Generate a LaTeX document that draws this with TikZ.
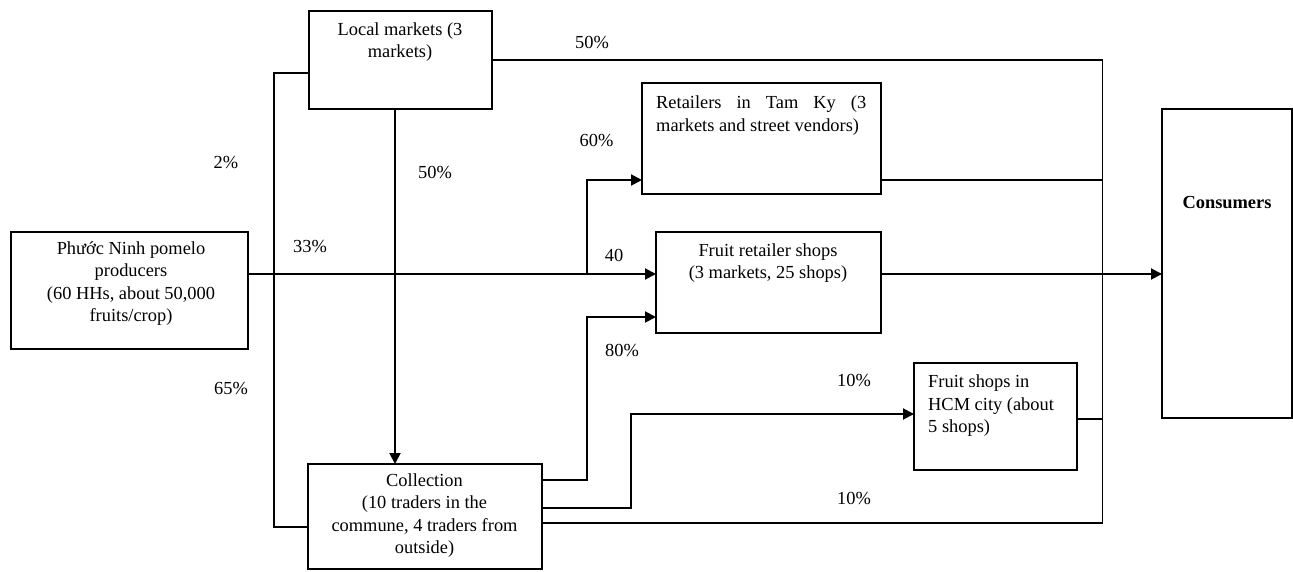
\documentclass[tikz,border=0pt]{standalone}
\usepackage{fontspec}
\setmainfont{Liberation Serif}
\usetikzlibrary{arrows.meta}
\begin{document}
\begin{tikzpicture}[x=1pt,y=-1pt,
  box/.style={draw, line width=1.1pt, inner sep=0pt, outer sep=0pt, anchor=north west},
  txt/.style={inner sep=0pt, font=\fontsize{18.4}{22.5}\selectfont},
  lbl/.style={inner sep=0pt, font=\fontsize{18.4}{22.5}\selectfont},
  plain/.style={line width=1.1pt},
  arr/.style={line width=1.9pt, -{Triangle[length=11pt,width=11pt]}}]
\useasboundingbox (0,0) rectangle (1293,572);
% boxes
\node[box, minimum width=183pt, minimum height=98pt] (lm) at (309,11) {};
\node[box, minimum width=239pt, minimum height=111pt] (tk) at (642,83) {};
\node[box, minimum width=225pt, minimum height=101pt] (fr) at (656,232) {};
\node[box, minimum width=130pt, minimum height=309pt] (cons) at (1162,109) {};
\node[box, minimum width=237pt, minimum height=117pt] (prod) at (11,232) {};
\node[box, minimum width=234pt, minimum height=105pt] (col) at (308,464) {};
\node[box, minimum width=163pt, minimum height=107pt] (hcm) at (914,363) {};
% texts
\node[txt, align=center] (lmT) at (400,42) {Local markets (3\\markets)};
\node[txt, align=left, anchor=west] (tkT) at (656,115.5) {\makebox[210pt][s]{Retailers in Tam Ky (3}\\markets and street vendors)};
\node[txt, align=center] (frT) at (768,263) {Fruit retailer shops\\(3 markets, 25 shops)};
\node[txt, font=\fontsize{18.4}{22.5}\selectfont\bfseries] (consT) at (1227,203) {Consumers};
\node[txt, align=center] (prodT) at (131,283.4) {Phước Ninh pomelo\\producers\\(60 HHs, about 50,000\\fruits/crop)};
\node[txt, align=center] (colT) at (424.5,515.4) {Collection\\(10 traders in the\\commune, 4 traders from\\outside)};
\node[txt, align=left, anchor=west] (hcmT) at (928,405.9) {Fruit shops in\\HCM city (about\\5 shops)};
% helper levels
\coordinate (yA) at (0,60);
\coordinate (yB) at (0,73);
\coordinate (yR) at (0,180);
\coordinate (yM) at (0,274);
\coordinate (yF) at (0,317);
\coordinate (yH) at (0,414);
\coordinate (yHR) at (0,419);
\coordinate (yC1) at (0,480);
\coordinate (yC2) at (0,508);
\coordinate (yC3) at (0,523);
\coordinate (yL) at (0,527);
\coordinate (xL) at (274,0);
\coordinate (xD) at (395,0);
\coordinate (xB1) at (587,0);
\coordinate (xB2) at (631,0);
\coordinate (xV) at (1102.5,0);
% connectors
\draw[plain] (lm.west |- yB) -| (xL |- yL) -- (col.west |- yL);
\draw[arr] (prod.east |- yM) -- (fr.west |- yM);
\draw[arr] (xB1 |- yM) |- (tk.west |- yR);
\draw[arr] (xD |- lm.south) -- (xD |- col.north);
\draw[plain] (lm.east |- yA) -| (xV |- yC3) -- (col.east |- yC3);
\draw[plain] (tk.east |- yR) -- (xV |- yR);
\draw[arr] (fr.east |- yM) -- (cons.west |- yM);
\draw[arr] (col.east |- yC1) -| (xB1 |- yF) -- (fr.west |- yF);
\draw[arr] (col.east |- yC2) -| (xB2 |- yH) -- (hcm.west |- yH);
\draw[plain] (hcm.east |- yHR) -- (xV |- yHR);
% labels
\node[lbl] (l1) at (592,43) {50\%};
\node[lbl] (l2) at (226,163) {2\%};
\node[lbl] (l3) at (435,173) {50\%};
\node[lbl] (l4) at (596.6,141) {60\%};
\node[lbl] (l5) at (310,247) {33\%};
\node[lbl] (l6) at (614,255) {40};
\node[lbl] (l7) at (231,389) {65\%};
\node[lbl] (l8) at (622,351) {80\%};
\node[lbl] (l9) at (854,381) {10\%};
\node[lbl] (l10) at (854,498) {10\%};
\end{tikzpicture}
\end{document}
